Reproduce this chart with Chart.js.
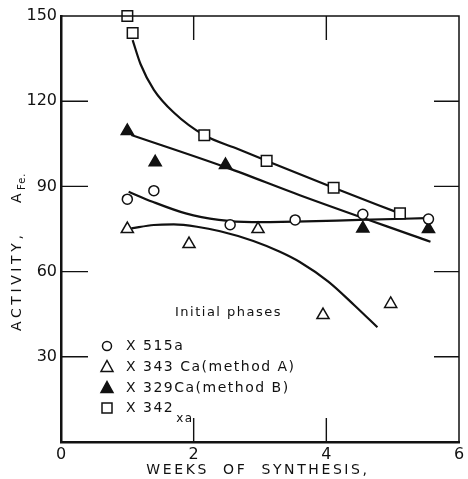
<!DOCTYPE html>
<html>
<head>
<meta charset="utf-8">
<script src="https://cdn.jsdelivr.net/npm/chart.js@4/dist/chart.umd.min.js"></script>
<style>
  html, body { margin: 0; padding: 0; background: #fff; }
  canvas { display: block; }
</style>
</head>
<body>
<canvas id="chActivity" width="468" height="479"></canvas>
<script>
/* activity vs weeks of synthesis */
// measured points
var x515X = [ 1.0, 1.4, 2.55, 3.53, 4.55, 5.54 ];
var x515Y = [ 85.5, 88.5, 76.5, 78.2, 80.2, 78.5 ];
var x343X = [ 1.0, 1.93, 2.97, 3.95, 4.97 ];
var x343Y = [ 75, 69.7, 75, 44.7, 48.6 ];
var x329X = [ 1.0, 1.42, 2.48, 4.55, 5.54 ];
var x329Y = [ 109.5, 98.5, 97.5, 75.2, 75 ];
var x342X = [ 1.0, 1.08, 2.16, 3.1, 4.11, 5.11 ];
var x342Y = [ 150, 144, 108, 99, 89.5, 80.5 ];

// hand drawn curves
var fit515X = [ 1.02, 1.38, 1.88, 2.38, 2.88, 3.53, 4.5, 5.5 ];
var fit515Y = [ 88.1, 84.6, 80.5, 78.2, 77.4, 77.6, 78.2, 78.8 ];
var fit343X = [ 1.06, 1.4, 1.7, 2.05, 2.4, 2.9, 3.3, 3.6, 4.03, 4.43, 4.77 ];
var fit343Y = [ 75.2, 76.4, 76.6, 75.8, 74.2, 70.8, 67, 63.4, 56.5, 48, 40.4 ];
var fit329X = [ 1.06, 2.5, 3.6, 5.57 ];
var fit329Y = [ 108.1, 96.6, 86.9, 70.5 ];
var fit342X = [ 1.08, 1.2, 1.4, 1.7, 2.16, 2.63, 3.1, 4.11, 5.11 ];
var fit342Y = [ 141.5, 133, 124, 116, 108, 103.5, 99, 89.5, 80.5 ];

// legend
var legendText = [ 'X 515a', 'X 343 Ca(method A)', 'X 329Ca(method B)', 'X 342' ];
var legendSub = [ '', '', '', 'xa' ];
var noteText = 'Initial phases';

// axis ticks
var xTicks = [ 0, 2, 4, 6 ];
var yTicks = [ 0, 30, 60, 90, 120, 150 ];

var ink = '#111';
var fontFam = '"DejaVu Sans", sans-serif';

function pts(xs, ys) {
	return xs.map(function (x, i) { return { x: x, y: ys[i] }; });
}

function markers(label, xs, ys, style, radius, fill) {
	return {
		label: label,
		data: pts(xs, ys),
		showLine: false,
		pointStyle: style,
		pointRadius: radius,
		pointBackgroundColor: fill,
		pointBorderColor: ink,
		pointBorderWidth: 1.5,
		clip: false,
		order: 0
	};
}

function curve(xs, ys) {
	return {
		data: pts(xs, ys),
		showLine: true,
		borderColor: ink,
		borderWidth: 2.2,
		pointRadius: 0,
		cubicInterpolationMode: 'monotone',
		fill: false,
		order: 1
	};
}

// inward ticks + top/right frame
var framePlugin = {
	id: 'frame',
	afterDatasetsDraw: function (chart) {
		var ctx = chart.ctx, a = chart.chartArea;
		var xs = chart.scales.x, ys = chart.scales.y;
		ctx.save();
		ctx.strokeStyle = ink;
		ctx.lineWidth = 1.5;
		ctx.beginPath();
		ctx.moveTo(a.left, a.top);
		ctx.lineTo(a.right, a.top);
		ctx.lineTo(a.right, a.bottom);
		ctx.stroke();
		ctx.lineWidth = 1.4;
		ctx.beginPath();
		ys.ticks.forEach(function (t) {
			if (t.value <= 0 || t.value >= 150) return;
			var y = ys.getPixelForValue(t.value);
			ctx.moveTo(a.left, y); ctx.lineTo(a.left + 27, y);
			ctx.moveTo(a.right, y); ctx.lineTo(a.right - 25, y);
		});
		xs.ticks.forEach(function (t) {
			if (t.value <= 0 || t.value >= 6) return;
			var x = xs.getPixelForValue(t.value);
			ctx.moveTo(x, a.bottom); ctx.lineTo(x, a.bottom - 24);
			ctx.moveTo(x, a.top); ctx.lineTo(x, a.top + 24);
		});
		ctx.stroke();
		ctx.restore();
	}
};

function drawMarker(ctx, style, x, y, fill) {
	ctx.beginPath();
	if (style === 'circle') {
		ctx.arc(x, y, 4.5, 0, Math.PI * 2);
	} else if (style === 'triangle') {
		ctx.moveTo(x, y - 6.5);
		ctx.lineTo(x + 6, y + 4.5);
		ctx.lineTo(x - 6, y + 4.5);
		ctx.closePath();
	} else {
		ctx.rect(x - 5, y - 5, 10, 10);
	}
	ctx.fillStyle = fill;
	ctx.fill();
	ctx.stroke();
}

// legend and titles drawn as text
var textPlugin = {
	id: 'texts',
	afterDraw: function (chart) {
		var ctx = chart.ctx;
		ctx.save();
		ctx.fillStyle = ink;
		ctx.strokeStyle = ink;
		ctx.lineWidth = 1.5;
		ctx.textBaseline = 'middle';

		ctx.font = '13px ' + fontFam;
		ctx.letterSpacing = '1.5px';
		ctx.textAlign = 'left';
		ctx.fillText(noteText, 175, 313);

		var rows = [ 346, 367, 388, 408 ];
		var ds = chart.data.datasets;
		ctx.font = '14px ' + fontFam;
		for (var i = 0; i < 4; i++) {
			drawMarker(ctx, ds[i].pointStyle, 107, rows[i], ds[i].pointBackgroundColor);
			ctx.fillStyle = ink;
			ctx.fillText(legendText[i], 126, rows[i]);
			if (legendSub[i]) {
				var w = ctx.measureText(legendText[i]).width;
				ctx.font = '12px ' + fontFam;
				ctx.fillText(legendSub[i], 126 + w + 2, rows[i] + 11);
				ctx.font = '14px ' + fontFam;
			}
		}

		// x title
		ctx.font = '14px ' + fontFam;
		ctx.letterSpacing = '2.6px';
		ctx.textAlign = 'center';
		ctx.fillText('WEEKS  OF  SYNTHESIS,', 258, 470);

		// y title, rotated
		ctx.translate(17, 331);
		ctx.rotate(-Math.PI / 2);
		ctx.textAlign = 'left';
		ctx.letterSpacing = '3.6px';
		ctx.fillText('ACTIVITY,', 0, 0);
		ctx.letterSpacing = '0px';
		ctx.fillText('A', 128, 0);
		ctx.font = '10px ' + fontFam;
		ctx.letterSpacing = '1px';
		ctx.fillText('Fe.', 141, 5);
		ctx.restore();
	}
};

var chActivity = document.getElementById('chActivity');
new Chart(chActivity, {
	type: 'scatter',
	data: {
		datasets: [
			markers(legendText[0], x515X, x515Y, 'circle', 5, '#fff'),
			markers(legendText[1], x343X, x343Y, 'triangle', 7, '#fff'),
			markers(legendText[2], x329X, x329Y, 'triangle', 7, ink),
			markers(legendText[3], x342X, x342Y, 'rect', 7.5, '#fff'),
			curve(fit515X, fit515Y),
			curve(fit343X, fit343Y),
			curve(fit329X, fit329Y),
			curve(fit342X, fit342Y)
		]
	},
	options: {
		responsive: false,
		animation: false,
		layout: { padding: { top: 16, right: 6, left: 0, bottom: 0 } },
		plugins: { legend: { display: false }, tooltip: { enabled: false } },
		scales: {
			x: {
				type: 'linear',
				min: xTicks[0],
				max: xTicks[xTicks.length - 1],
				afterBuildTicks: function (s) { s.ticks = xTicks.map(function (v) { return { value: v }; }); },
				ticks: { color: ink, padding: 3, font: { family: fontFam, size: 16 } },
				grid: { display: false, drawTicks: false },
				border: { display: true, color: ink, width: 2.5 },
				afterFit: function (s) { s.height = 37; }
			},
			y: {
				min: yTicks[0],
				max: yTicks[yTicks.length - 1],
				afterBuildTicks: function (s) { s.ticks = yTicks.map(function (v) { return { value: v }; }); },
				ticks: {
					color: ink, padding: 4, font: { family: fontFam, size: 16 },
					callback: function (v) { return v === 0 ? '' : v; }
				},
				grid: { display: false, drawTicks: false },
				border: { display: true, color: ink, width: 2.5 },
				afterFit: function (s) { s.width = 61; }
			}
		}
	},
	plugins: [ framePlugin, textPlugin ]
});
</script>
</body>
</html>
